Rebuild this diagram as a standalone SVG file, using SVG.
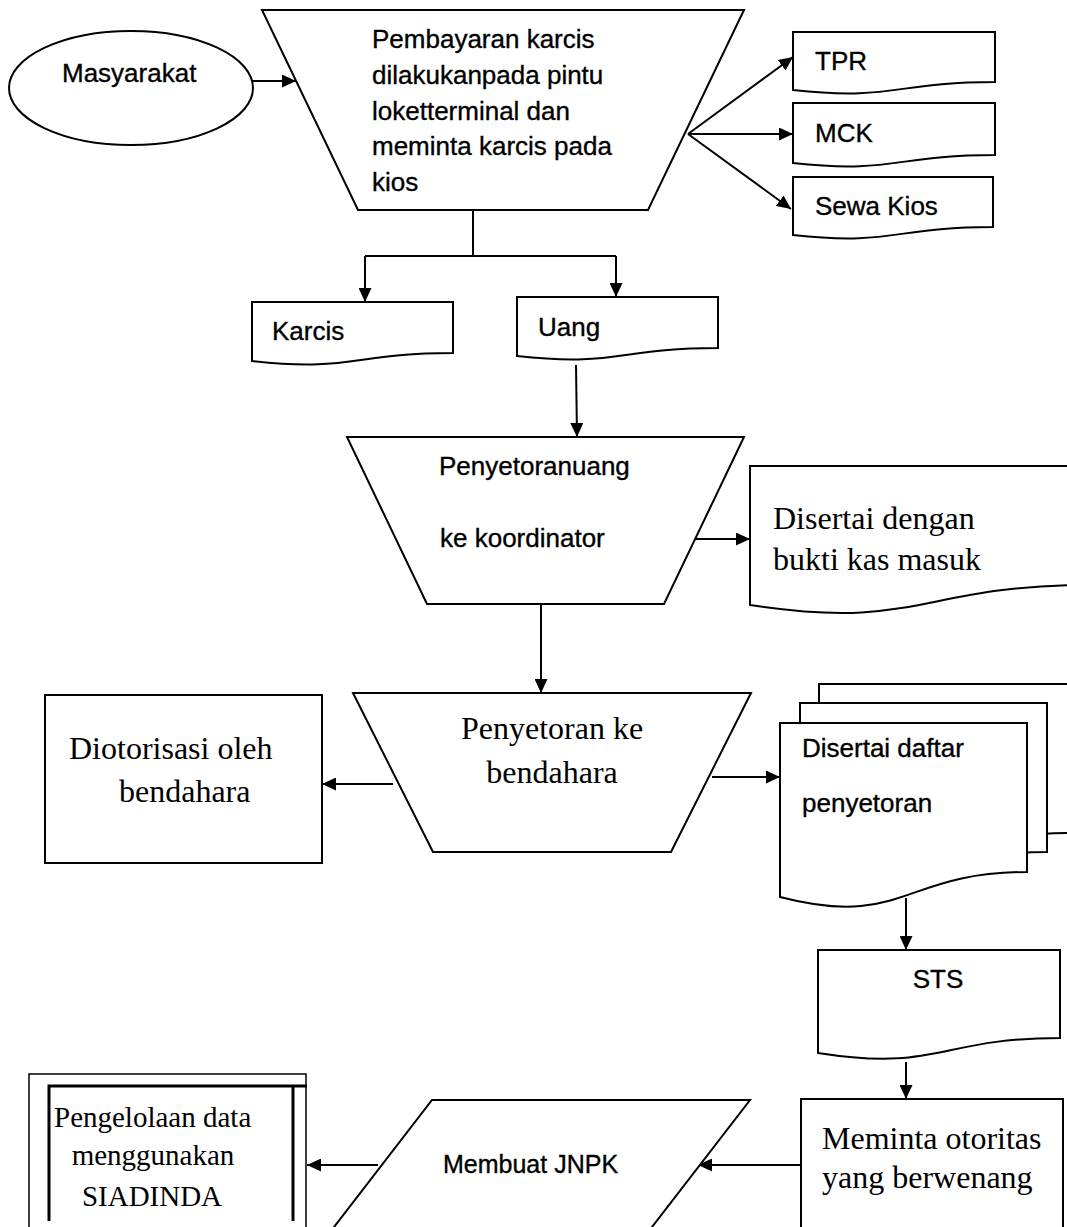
<svg xmlns="http://www.w3.org/2000/svg" width="1067" height="1227" viewBox="0 0 1067 1227">
<defs>
<marker id="ah" markerUnits="userSpaceOnUse" markerWidth="14" markerHeight="13" refX="14" refY="6.5" orient="auto">
<path d="M0,0 L14,6.5 L0,13 Z" fill="#000"/>
</marker>
<style>
.sh{fill:#fff;stroke:#000;stroke-width:2}
.cn{fill:none;stroke:#000;stroke-width:2}
.ar{fill:none;stroke:#000;stroke-width:2;marker-end:url(#ah)}
.s{font-family:"Liberation Sans",Arial,sans-serif;font-size:26px;fill:#000;stroke:#000;stroke-width:0.35}
.t{font-family:"Liberation Serif","Times New Roman",serif;font-size:32px;fill:#000}
</style>
</defs>
<rect width="1067" height="1227" fill="#fff"/>

<g id="connectors">
<line class="ar" x1="252" y1="81" x2="296" y2="81"/>
<line class="ar" x1="688" y1="134" x2="793" y2="57"/>
<line class="ar" x1="688" y1="134" x2="793" y2="134"/>
<line class="ar" x1="688" y1="134" x2="791" y2="209"/>
<polyline class="cn" points="473,210 473,256"/>
<line class="cn" x1="365" y1="256" x2="616" y2="256"/>
<line class="ar" x1="365" y1="256" x2="365" y2="302"/>
<line class="ar" x1="616" y1="256" x2="616" y2="297"/>
<line class="ar" x1="576" y1="365" x2="577" y2="437"/>
<line class="ar" x1="693" y1="539" x2="750" y2="539"/>
<line class="ar" x1="541" y1="604" x2="541" y2="693"/>
<line class="ar" x1="393" y1="784" x2="322" y2="784"/>
<line class="ar" x1="712" y1="777" x2="780" y2="777"/>
<line class="ar" x1="906" y1="898" x2="906" y2="950"/>
<line class="ar" x1="906" y1="1062" x2="906" y2="1099"/>
<line class="ar" x1="801" y1="1165" x2="698" y2="1165"/>
<line class="ar" x1="378" y1="1165" x2="307" y2="1165"/>
</g>

<g id="masyarakat">
<ellipse class="sh" cx="131" cy="88" rx="122" ry="57"/>
<text class="s" x="62" y="82">Masyarakat</text>
</g>

<g id="pembayaran">
<polygon class="sh" points="262,10 744,10 648,210 358,210"/>
<text class="s" x="372" y="48">Pembayaran karcis</text>
<text class="s" x="372" y="84">dilakukanpada pintu</text>
<text class="s" x="372" y="120">loketterminal dan</text>
<text class="s" x="372" y="155">meminta karcis pada</text>
<text class="s" x="372" y="191">kios</text>
</g>

<g id="tpr">
<path class="sh" d="M793,32 H995 V82 C894,82 894,101 793,90 Z"/>
<text class="s" x="815" y="70">TPR</text>
</g>
<g id="mck">
<path class="sh" d="M793,103 H995 V155 C894,155 894,174 793,163 Z"/>
<text class="s" x="815" y="142">MCK</text>
</g>
<g id="sewakios">
<path class="sh" d="M793,177 H993 V227 C893,227 893,246 793,235 Z"/>
<text class="s" x="815" y="215">Sewa Kios</text>
</g>

<g id="karcis">
<path class="sh" d="M252,302 H453 V353 C352,353 352,372 252,361 Z"/>
<text class="s" x="272" y="340">Karcis</text>
</g>
<g id="uang">
<path class="sh" d="M517,297 H718 V348 C617,348 617,367 517,356 Z"/>
<text class="s" x="538" y="336">Uang</text>
</g>

<g id="penyetoran-koordinator">
<polygon class="sh" points="347,437 744,437 664,604 427,604"/>
<text class="s" x="439" y="475">Penyetoranuang</text>
<text class="s" x="440" y="547">ke koordinator</text>
</g>

<g id="bukti-kas">
<path class="sh" d="M750,466 H1090 V585 C920,585 920,631 750,605 Z"/>
<text class="t" x="773" y="529">Disertai dengan</text>
<text class="t" x="773" y="570">bukti kas masuk</text>
</g>

<g id="penyetoran-bendahara">
<polygon class="sh" points="353,693 751,693 671,852 433,852"/>
<text class="t" x="552" y="739" text-anchor="middle">Penyetoran ke</text>
<text class="t" x="552" y="783" text-anchor="middle">bendahara</text>
</g>

<g id="diotorisasi">
<rect class="sh" x="45" y="695" width="277" height="168"/>
<text class="t" x="69" y="759">Diotorisasi oleh</text>
<text class="t" x="119" y="802">bendahara</text>
</g>

<g id="daftar-penyetoran">
<path class="sh" d="M819,684 H1069 V833 C944,833 944,890 819,858 Z"/>
<path class="sh" d="M800,703 H1047 V852 C923,852 923,909 800,877 Z"/>
<path class="sh" d="M780,723 H1027 V872 C903,872 903,929 780,897 Z"/>
<text class="s" x="802" y="757">Disertai daftar</text>
<text class="s" x="802" y="812">penyetoran</text>
</g>

<g id="sts">
<path class="sh" d="M818,950 H1060 V1038 C939,1038 939,1072 818,1053 Z"/>
<text class="s" x="938" y="988" text-anchor="middle">STS</text>
</g>

<g id="meminta">
<rect class="sh" x="801" y="1099" width="262" height="150"/>
<text class="t" x="822" y="1149">Meminta otoritas</text>
<text class="t" x="822" y="1188">yang berwenang</text>
</g>

<g id="jnpk">
<polygon class="sh" points="432,1100 750,1100 642,1240 324,1240"/>
<text class="s" x="443" y="1173" style="font-size:25px">Membuat JNPK</text>
</g>

<g id="siadinda">
<rect fill="#fff" stroke="#000" stroke-width="1.5" x="29" y="1074" width="277" height="170"/>
<polyline fill="none" stroke="#000" stroke-width="3" points="49,1221 49,1086 307,1086"/>
<line stroke="#000" stroke-width="3" x1="293" y1="1086" x2="293" y2="1221"/>
<text class="t" style="font-size:29px" x="54" y="1127">Pengelolaan data</text>
<text class="t" style="font-size:29px" x="153" y="1165" text-anchor="middle">menggunakan</text>
<text class="t" style="font-size:29px" x="152" y="1206" text-anchor="middle">SIADINDA</text>
</g>
</svg>
